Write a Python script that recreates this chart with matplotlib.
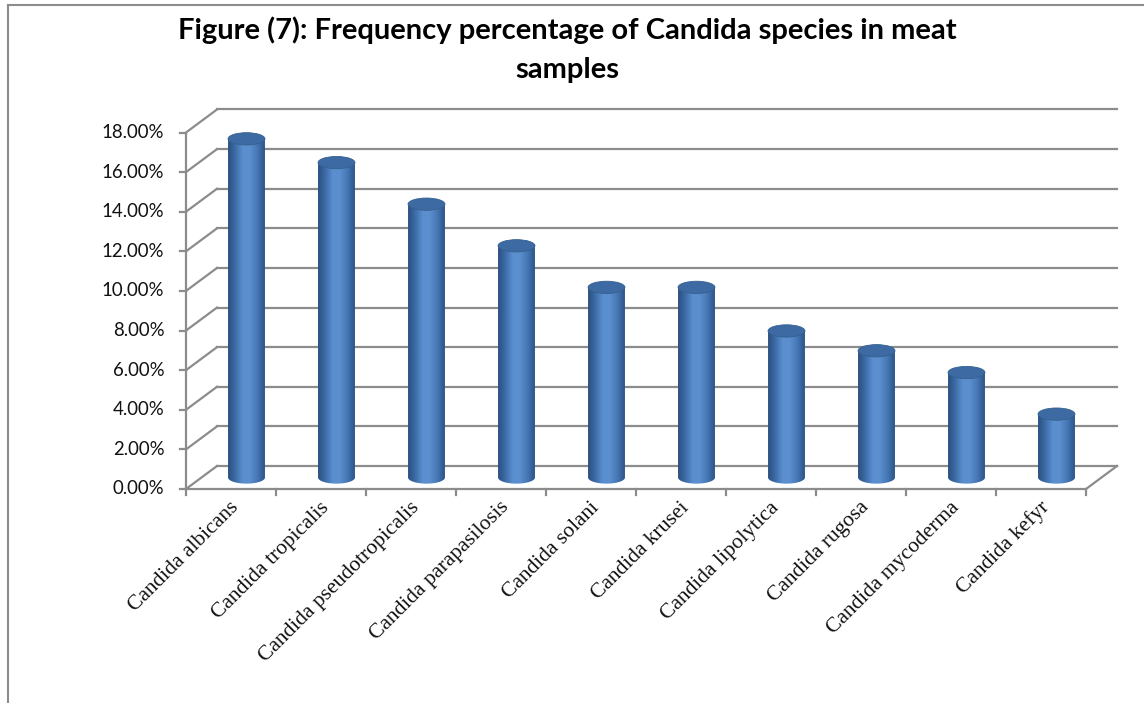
import numpy as np
import matplotlib.pyplot as plt
from matplotlib.patches import Ellipse
from matplotlib.path import Path
from matplotlib.patches import PathPatch
from matplotlib.colors import LinearSegmentedColormap

species = ['Candida albicans', 'Candida tropicalis', 'Candida pseudotropicalis',
           'Candida parapasilosis', 'Candida solani', 'Candida krusei',
           'Candida lipolytica', 'Candida rugosa', 'Candida mycoderma', 'Candida kefyr']
frequency = [17.1, 15.9, 13.8, 11.7, 9.6, 9.6, 7.4, 6.4, 5.3, 3.2]
y_ticks = [0, 2, 4, 6, 8, 10, 12, 14, 16, 18]

title = 'Figure (7): Frequency percentage of Candida species in meat\nsamples'

W, H = 1144, 703
fig = plt.figure(figsize=(W / 100, H / 100), dpi=100)
fig.patch.set_facecolor('white')

# front plane of the plot area
ax = fig.add_axes([186 / W, (H - 489) / H, 900 / W, 356.5 / H])
ax.set_xlim(0, len(species))
ax.set_ylim(0, 18)
ax.set_aspect('auto')
ax.axis('off')

# depth offset of the back wall (x in categories, y in percent)
dx, dy = 31 / 90, 23 / 19.8
n = len(species)
grid_c = '#8c8c8c'
lw = 1.6

for t in y_ticks:
    ax.plot([dx, n + dx], [t + dy, t + dy], color=grid_c, lw=lw, clip_on=False, zorder=1)
    ax.plot([0, dx], [t, t + dy], color=grid_c, lw=lw, clip_on=False, zorder=1)
    ax.plot([-0.065, 0], [t, t], color=grid_c, lw=lw, clip_on=False, zorder=1)
    ax.text(-0.24, t, f'{t:.2f}%', ha='right', va='center', fontsize=13.4,
            family='Lato', color='#111111')

# floor and left axis
ax.plot([0, n], [0, 0], color=grid_c, lw=lw, clip_on=False, zorder=1)
ax.plot([n, n + dx], [0, dy], color=grid_c, lw=lw, clip_on=False, zorder=1)
ax.plot([0, 0], [0, 18], color=grid_c, lw=lw, clip_on=False, zorder=1)
for i in range(n + 1):
    ax.plot([i, i], [0, -0.3], color=grid_c, lw=lw, clip_on=False, zorder=1)

# cylinder shading, dark edges and a highlight left of centre
cyl_cmap = LinearSegmentedColormap.from_list(
    'cyl', ['#2a4f7e', '#3e6ca8', '#5a8fd0', '#5b8ecd', '#4677b5', '#2c5488'])
shade = np.linspace(0, 1, 200).reshape(1, -1)

bw = 0.41
eh = 0.62
for i, v in enumerate(frequency):
    cx = i + 0.5 + dx / 2
    base = dy / 2
    top = v + dy / 2
    x0, x1 = cx - bw / 2, cx + bw / 2
    # body outline: rectangle closed by the lower half of the base ellipse
    th = np.linspace(np.pi, 2 * np.pi, 60)
    bottom = np.column_stack([cx + bw / 2 * np.cos(th), base + eh / 2 * np.sin(th)])
    verts = np.vstack([bottom, [[x1, top], [x0, top], [x0, base]]])
    body = PathPatch(Path(verts), facecolor='none', edgecolor='none', transform=ax.transData)
    ax.add_patch(body)
    im = ax.imshow(shade, cmap=cyl_cmap, aspect='auto', extent=[x0, x1, base - eh, top],
                   zorder=3, interpolation='bilinear')
    im.set_clip_path(body)
    ax.add_patch(Ellipse((cx, top), bw, eh, angle=0, facecolor='#3d6aa2',
                         edgecolor='#35608f', lw=0.6, zorder=4, clip_on=False))

ax.set_ylim(0, 18)
ax.set_xlim(0, n)

for i, name in enumerate(species):
    ax.text(i + 0.56, -0.8, name, rotation=45, rotation_mode='anchor',
            ha='right', va='center', fontsize=15.5, family='Liberation Serif',
            color='#111111', clip_on=False)

fig.text(567 / W, 1 - 50 / H, title, ha='center', va='center', fontsize=21,
         fontweight='bold', family='Lato', linespacing=1.6)

# chart frame
fig.add_artist(plt.Line2D([7.5 / W, 7.5 / W], [0, 1 - 5 / H], color='#8c8c8c', lw=1.5))
fig.add_artist(plt.Line2D([7.5 / W, 1], [1 - 5 / H, 1 - 5 / H], color='#8c8c8c', lw=1.5))

fig.savefig('out.png', dpi=100)
